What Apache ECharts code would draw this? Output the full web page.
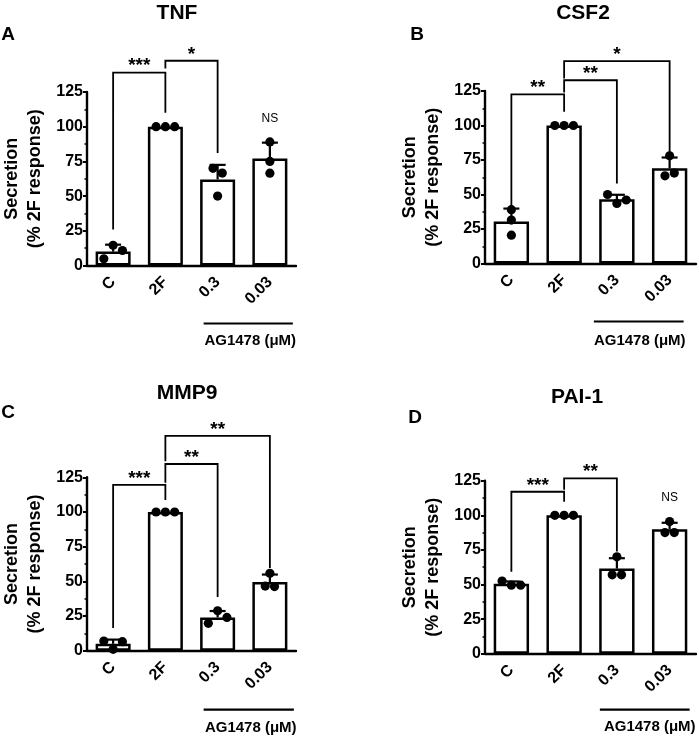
<!DOCTYPE html>
<html><head><meta charset="utf-8">
<script src="https://cdn.jsdelivr.net/npm/echarts@6/dist/echarts.min.js"></script>
<style>html,body{margin:0;padding:0;background:#fff}#c{width:699px;height:737px}</style>
</head><body><div id="c"></div>
<script>
// ---------- data ----------
const categories = ['C', '2F', '0.3', '0.03'];
const yTickMax = 125, yTickStep = 25;
const groupLabel = 'AG1478 (μM)';
const yName = 'Secretion\n(% 2F response)';

const panelTitles = ['TNF', 'CSF2', 'MMP9', 'PAI-1'];
const panelLetters = ['A', 'B', 'C', 'D'];

// TNF
const tnfMean = [10, 100, 62, 77];
const tnfSD = [5, 0, 10.5, 11.5];
const tnfPoints = [[4.8, 14.6, 10.8], [100, 100, 100], [70, 66.6, 50], [89, 75, 66.5]];
const tnfBrackets = [[0, 1, 139, 26, 110], [1, 2, 147.5, 142, 81]];
const tnfBracketLabels = ['***', '*'];
const tnfNS = [[3, 106]];

// CSF2
const csfMean = [30.5, 100, 46.5, 69];
const csfSD = [9.3, 0, 3.3, 7.8];
const csfPoints = [[39, 31.5, 20.5], [100, 100, 100], [50, 43.5, 46], [78, 63.5, 65.5]];
const csfBrackets = [[0, 1, 122.5, 41, 110], [1, 2, 132.8, 124, 58], [1, 3, 146.6, 134, 80.6]];
const csfBracketLabels = ['**', '**', '*'];
const csfNS = [];

// MMP9
const mmpMean = [5, 100, 24, 49.5];
const mmpSD = [3, 0, 4.6, 5.4];
const mmpPoints = [[7, 1, 6.5], [100, 100, 100], [19.7, 28.8, 24], [55.8, 46.6, 46.2]];
const mmpBrackets = [[0, 1, 119.5, 16.4, 108.7], [1, 2, 134.6, 121, 38.7], [1, 3, 154.8, 136.5, 59.6]];
const mmpBracketLabels = ['***', '**', '**'];
const mmpNS = [];

// PAI-1
const paiMean = [50.5, 100, 61.5, 90];
const paiSD = [1.7, 0, 7.5, 4.6];
const paiPoints = [[52.5, 49.5, 49.5], [100, 100, 100], [70, 57, 57], [95.5, 87.5, 87.5]];
const paiBrackets = [[0, 1, 117, 59.3, 109.8], [1, 2, 126.7, 118.5, 73.8]];
const paiBracketLabels = ['***', '**'];
const paiNS = [[3, 112.5]];

// ---------- layout (positions / styles, not data) ----------
const FONT = '"Liberation Sans", Arial, sans-serif';
const layouts = [
  {grid: {left: 84, top: 92, width: 212, height: 173.5}, title: [177, 13], letter: [8, 35], ul: {from: -14, to: 23, y: 58, ty: 75, tdx: 2}},
  {grid: {left: 485, top: 91, width: 211, height: 172.5}, title: [583, 13], letter: [417, 35], ul: {from: -23, to: 14, y: 58, ty: 77, tdx: 1}},
  {grid: {left: 84, top: 477.3, width: 212, height: 173.4}, title: [187, 393], letter: [8, 413], ul: {from: -14, to: 24, y: 59, ty: 77, tdx: 2}},
  {grid: {left: 485, top: 480.7, width: 211, height: 173}, title: [577, 397], letter: [415, 418], ul: {from: -17, to: 20, y: 56, ty: 73, tdx: 5}}
];
const panels = [
  {mean: tnfMean, sd: tnfSD, pts: tnfPoints, br: tnfBrackets, brl: tnfBracketLabels, ns: tnfNS},
  {mean: csfMean, sd: csfSD, pts: csfPoints, br: csfBrackets, brl: csfBracketLabels, ns: csfNS},
  {mean: mmpMean, sd: mmpSD, pts: mmpPoints, br: mmpBrackets, brl: mmpBracketLabels, ns: mmpNS},
  {mean: paiMean, sd: paiSD, pts: paiPoints, br: paiBrackets, brl: paiBracketLabels, ns: paiNS}
];

const DOT_R = 4.6, DOT_GAP = 9.3;

function errRender(params, api) {
  const i = api.value(0), m = api.value(1), s = api.value(2);
  if (!s) return null;
  const p0 = api.coord([i, m]), p1 = api.coord([i, m + s]);
  return {type: 'group', children: [
    {type: 'line', shape: {x1: p0[0], y1: p0[1], x2: p1[0], y2: p1[1]}, style: {stroke: '#000', lineWidth: 2.2}},
    {type: 'line', shape: {x1: p1[0] - 8, y1: p1[1], x2: p1[0] + 8, y2: p1[1]}, style: {stroke: '#000', lineWidth: 2.2}}
  ]};
}

function pointRender(pts) {
  return function (params, api) {
    const cat = api.value(0), rep = api.value(2);
    const reps = pts[cat];
    const ys = reps.map(v => api.coord([cat, v])[1]);
    const order = ys.map((y, k) => k).sort((a, b) => ys[a] - ys[b]);
    const clusters = [];
    let cur = [order[0]];
    for (let k = 1; k < order.length; k++) {
      if (ys[order[k]] - ys[order[k - 1]] < DOT_GAP) cur.push(order[k]);
      else { clusters.push(cur); cur = [order[k]]; }
    }
    clusters.push(cur);
    const cl = clusters.find(c => c.indexOf(rep) >= 0).slice().sort((a, b) => a - b);
    const pos = cl.indexOf(rep);
    const off = (pos - (cl.length - 1) / 2) * DOT_GAP;
    const p = api.coord([cat, reps[rep]]);
    return {type: 'circle', shape: {cx: p[0] + off, cy: p[1], r: DOT_R}, style: {fill: '#000'}};
  };
}

function bracketRender(br, labels) {
  return function (params, api) {
    const b = br[params.dataIndex];
    const l = api.coord([b[0], b[2]]), r = api.coord([b[1], b[2]]);
    const yl = api.coord([b[0], b[3]])[1], yr = api.coord([b[1], b[4]])[1];
    return {type: 'group', children: [
      {type: 'polyline', shape: {points: [[l[0], yl], [l[0], l[1]], [r[0], r[1]], [r[0], yr]]},
        style: {stroke: '#000', lineWidth: 1.8, fill: null}},
      {type: 'text', x: (l[0] + r[0]) / 2, y: l[1] + 3,
        style: {text: labels[params.dataIndex], align: 'center', verticalAlign: 'bottom',
          font: 'bold 19px ' + FONT, fill: '#000'}}
    ]};
  };
}

function nsRender(params, api) {
  const p = api.coord([api.value(0), api.value(1)]);
  return {type: 'text', x: p[0], y: p[1], style: {text: 'NS', align: 'center', verticalAlign: 'middle',
    font: '12px ' + FONT, fill: '#000'}};
}

function groupRender(lay) {
  return function (params, api) {
    const a = api.coord([2, 0]), b = api.coord([3, 0]);
    const y = a[1] + lay.y;
    const x1 = a[0] + lay.from, x2 = b[0] + lay.to;
    return {type: 'group', children: [
      {type: 'line', shape: {x1: x1, y1: y, x2: x2, y2: y}, style: {stroke: '#000', lineWidth: 2.2}},
      {type: 'text', x: (x1 + x2) / 2 + lay.tdx, y: a[1] + lay.ty,
        style: {text: groupLabel, align: 'center', verticalAlign: 'middle', font: 'bold 15px ' + FONT, fill: '#000'}}
    ]};
  };
}

const grid = [], xAxis = [], yAxis = [], series = [], graphic = [];
panels.forEach((pn, g) => {
  const L = layouts[g];
  grid.push(L.grid);
  xAxis.push({
    type: 'category', gridIndex: g, data: categories,
    axisLine: {lineStyle: {color: '#000', width: 2.4}},
    axisTick: {alignWithLabel: true, length: 4, lineStyle: {color: '#000', width: 2}},
    axisLabel: {rotate: 45, margin: 14, interval: 0, color: '#000', fontSize: 16, fontWeight: 'bold', fontFamily: FONT}
  });
  yAxis.push({
    type: 'value', gridIndex: g, min: 0, max: yTickMax, interval: yTickStep,
    name: yName, nameLocation: 'middle', nameGap: 40,
    nameTextStyle: {color: '#000', fontSize: 18, fontWeight: 'bold', fontFamily: FONT, lineHeight: 23},
    axisLine: {show: true, lineStyle: {color: '#000', width: 2.4}},
    axisTick: {show: true, length: 4, lineStyle: {color: '#000', width: 2}},
    minorTick: {show: true, splitNumber: 2, length: 2.5, lineStyle: {color: '#000', width: 1.5}},
    splitLine: {show: false},
    axisLabel: {margin: 4, color: '#000', fontSize: 16, fontWeight: 'bold', fontFamily: FONT}
  });
  series.push({
    type: 'bar', xAxisIndex: g, yAxisIndex: g, data: pn.mean, barWidth: '67%', z: 2,
    itemStyle: {color: '#fff', borderColor: '#000', borderWidth: 2.5}, silent: true, animation: false
  });
  series.push({
    type: 'custom', xAxisIndex: g, yAxisIndex: g, clip: false, animation: false, z: 5,
    data: pn.mean.map((m, i) => [i, m, pn.sd[i]]), encode: {x: 0, y: 1}, renderItem: errRender
  });
  const pd = [];
  pn.pts.forEach((reps, i) => reps.forEach((v, k) => pd.push([i, v, k])));
  series.push({
    type: 'custom', xAxisIndex: g, yAxisIndex: g, clip: false, animation: false, z: 6,
    data: pd, encode: {x: 0, y: 1}, renderItem: pointRender(pn.pts)
  });
  series.push({
    type: 'custom', xAxisIndex: g, yAxisIndex: g, clip: false, animation: false, z: 6,
    data: pn.br.map(b => [b[0], b[2]]), encode: {x: 0, y: 1}, renderItem: bracketRender(pn.br, pn.brl)
  });
  if (pn.ns.length) series.push({
    type: 'custom', xAxisIndex: g, yAxisIndex: g, clip: false, animation: false, z: 6,
    data: pn.ns, encode: {x: 0, y: 1}, renderItem: nsRender
  });
  series.push({
    type: 'custom', xAxisIndex: g, yAxisIndex: g, clip: false, animation: false, z: 6,
    data: [[2, 0]], encode: {x: 0, y: 1}, renderItem: groupRender(L.ul)
  });
  graphic.push({type: 'text', x: L.title[0], y: L.title[1],
    style: {text: panelTitles[g], align: 'center', verticalAlign: 'middle', font: 'bold 21px ' + FONT, fill: '#000'}});
  graphic.push({type: 'text', x: L.letter[0], y: L.letter[1],
    style: {text: panelLetters[g], align: 'center', verticalAlign: 'middle', font: 'bold 19px ' + FONT, fill: '#000'}});
});

const chart = echarts.init(document.getElementById('c'));
chart.setOption({animation: false, backgroundColor: '#fff', grid, xAxis, yAxis, series, graphic});
</script></body></html>
